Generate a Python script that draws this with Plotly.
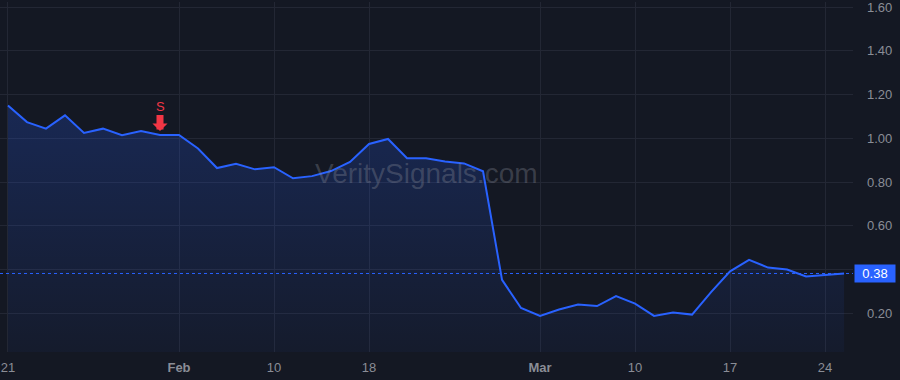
import plotly.graph_objects as go

# Trading days (category axis)
dates = [
    "2025-01-21", "2025-01-22", "2025-01-23", "2025-01-24",
    "2025-01-27", "2025-01-28", "2025-01-29", "2025-01-30", "2025-01-31",
    "2025-02-03", "2025-02-04", "2025-02-05", "2025-02-06", "2025-02-07",
    "2025-02-10", "2025-02-11", "2025-02-12", "2025-02-13", "2025-02-14",
    "2025-02-18", "2025-02-19", "2025-02-20", "2025-02-21",
    "2025-02-24", "2025-02-25", "2025-02-26", "2025-02-27", "2025-02-28",
    "2025-03-03", "2025-03-04", "2025-03-05", "2025-03-06", "2025-03-07",
    "2025-03-10", "2025-03-11", "2025-03-12", "2025-03-13", "2025-03-14",
    "2025-03-17", "2025-03-18", "2025-03-19", "2025-03-20", "2025-03-21",
    "2025-03-24", "2025-03-25",
]

values = [
    1.15, 1.074, 1.044, 1.105,
    1.024, 1.044, 1.014, 1.033, 1.015,
    1.015, 0.953, 0.864, 0.883, 0.858,
    0.868, 0.817, 0.827, 0.85, 0.892,
    0.974, 0.997, 0.909, 0.909,
    0.894, 0.885, 0.849, 0.353, 0.224,
    0.188, 0.217, 0.24, 0.233, 0.279,
    0.244, 0.188, 0.203, 0.194, 0.297,
    0.392, 0.444, 0.409, 0.40, 0.368,
    0.374, 0.382,
]

tick_dates = ["2025-01-21", "2025-02-03", "2025-02-10", "2025-02-18",
              "2025-03-03", "2025-03-10", "2025-03-17", "2025-03-24"]
tick_labels = ["21", "<b>Feb</b>", "10", "18", "<b>Mar</b>", "10", "17", "24"]

signal_date = "2025-01-31"
signal_label = "S"
last_label = "0.38"

BG = "#141823"
GRID = "#232734"
LINE = "#2962ff"
TXT = "#8a8d96"
FONT = "Liberation Sans, Arial, sans-serif"

fig = go.Figure()
fig.add_trace(go.Scatter(
    x=dates, y=values, mode="lines",
    line=dict(color=LINE, width=2),
    fill="tozeroy",
    fillgradient=dict(
        type="vertical",
        colorscale=[[0, "rgba(41,98,255,0.04)"], [1, "rgba(41,98,255,0.22)"]],
    ),
    hoverinfo="skip",
))

sig_val = values[dates.index(signal_date)]

fig.add_annotation(
    x=signal_date, y=sig_val, xref="x", yref="y",
    text=signal_label, showarrow=True,
    arrowhead=1, arrowwidth=7, arrowsize=0.36, arrowcolor="#f23645",
    ax=0, ay=-29, standoff=4,
    font=dict(color="#f23645", size=13, family=FONT),
)

fig.add_shape(
    type="line", xref="paper", x0=0, x1=1, yref="y",
    y0=values[-1], y1=values[-1],
    line=dict(color=LINE, width=1, dash="dot"),
)

fig.add_annotation(
    xref="paper", x=1, xanchor="left", xshift=1,
    yref="y", y=values[-1], yanchor="middle",
    text=last_label, showarrow=False,
    bgcolor=LINE, width=40, height=17, borderpad=0,
    font=dict(color="#ffffff", size=13, family=FONT),
)

fig.add_annotation(
    xref="paper", yref="paper", x=0.5, y=0.51,
    text="VeritySignals.com", showarrow=False,
    font=dict(color="rgba(140,144,156,0.32)", size=28, family=FONT),
)

fig.update_layout(
    width=900, height=380,
    margin=dict(l=0, r=47, t=0, b=28),
    paper_bgcolor=BG, plot_bgcolor=BG,
    showlegend=False, hovermode=False,
    font=dict(family=FONT, color=TXT, size=13),
    xaxis=dict(
        type="category", range=[-0.42, 44.47],
        tickmode="array", tickvals=tick_dates, ticktext=tick_labels,
        showgrid=True, gridcolor=GRID, gridwidth=1,
        zeroline=False, showline=False, ticks="",
        ticklabelstandoff=6, ticklabeloverflow="allow",
        tickfont=dict(color=TXT, size=13),
    ),
    yaxis=dict(
        side="right", range=[0.023, 1.623],
        tick0=0, dtick=0.2, tickformat=".2f",
        showgrid=True, gridcolor=GRID, gridwidth=1,
        zeroline=False, showline=False, ticks="",
        ticklabelstandoff=13, ticklabeloverflow="allow",
        tickfont=dict(color=TXT, size=13),
    ),
)

fig.write_html("out.html")
